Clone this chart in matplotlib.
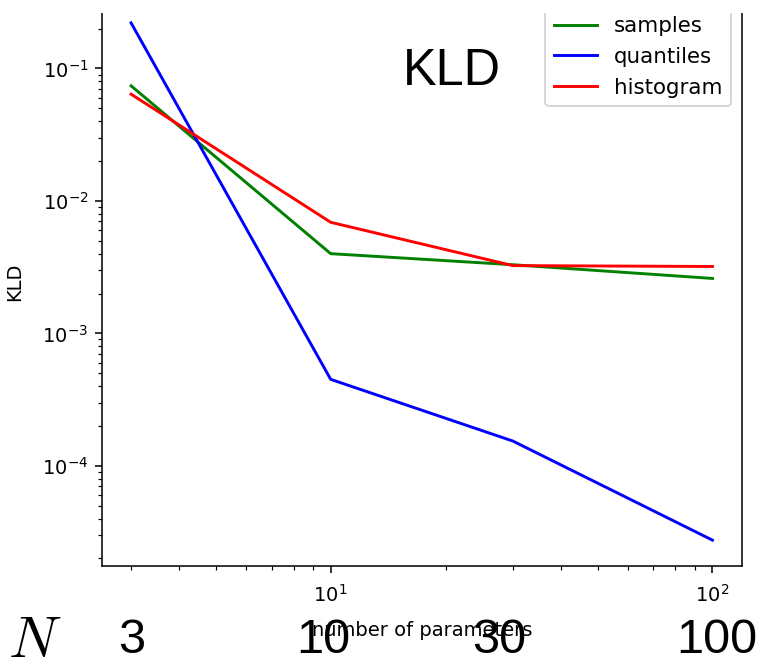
import numpy as np
import matplotlib
matplotlib.use("Agg")
import matplotlib.pyplot as plt
from matplotlib.patches import Rectangle

# number of parameters used for each approximation
n_params = [3, 10, 30, 100]

# KL divergence of each approximation against the true pdf
kld_samples = [0.074, 4.0e-3, 3.3e-3, 2.6e-3]
kld_quantiles = [0.221, 4.5e-4, 1.54e-4, 2.75e-5]
kld_histogram = [0.064, 6.9e-3, 3.25e-3, 3.2e-3]

n_labels = ["3", "10", "30", "100"]

W, H = 762, 663
dpi = 140
fig = plt.figure(figsize=(W / dpi, H / dpi), dpi=dpi)
ax = fig.add_axes([102 / W, 97 / H, 639.5 / W, 569 / H])

ax.plot(n_params, kld_samples, c="g", label="samples")
ax.plot(n_params, kld_quantiles, c="b", label="quantiles")
ax.plot(n_params, kld_histogram, c="r", label="histogram")
ax.set_xscale("log")
ax.set_yscale("log")
ax.tick_params(axis="x", which="both", pad=5.5)
ax.set_xlabel("number of parameters", labelpad=8)
ax.set_ylabel("KLD", labelpad=9)
ax.legend(loc="upper right", fontsize=11)

# trim the top strip of the figure
fig.patches.append(Rectangle((0, 1 - 13 / H), 1, 13 / H, transform=fig.transFigure,
                             facecolor="white", edgecolor="none", zorder=10))

# big annotations on top of the plot
fig.text(452 / W, 1 - 85 / H, "KLD", family="Liberation Sans", fontsize=26,
         ha="center", va="baseline", zorder=11)
fig.text(8 / W, 1 - 657 / H, "$N$", fontsize=30, math_fontfamily="cm",
         ha="left", va="baseline", zorder=11)
for xc, lab in zip([132, 323, 499, 717], n_labels):
    fig.text(xc / W, 1 - 653 / H, lab, family="Liberation Sans", fontsize=25,
             ha="center", va="baseline", zorder=11)

fig.savefig("out.png", dpi=dpi)
